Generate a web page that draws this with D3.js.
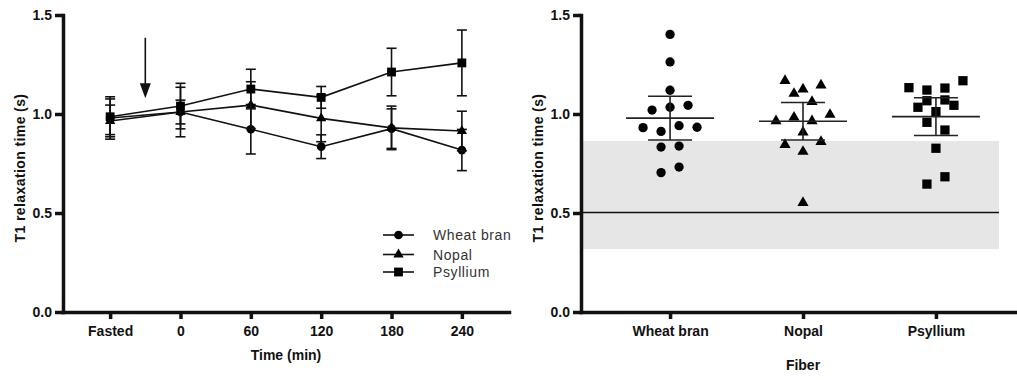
<!DOCTYPE html>
<html>
<head>
<meta charset="utf-8">
<script src="https://cdn.jsdelivr.net/npm/d3@7"></script>
<style>
  html, body { margin: 0; padding: 0; background: #fff; }
  text { font-family: "Liberation Sans", Arial, sans-serif; }
</style>
</head>
<body>
<div id="chart"></div>
<script>
// left panel: T1 over time, mean +/- error
var timeLabels = ['Fasted', '0', '60', '120', '180', '240'];
var seriesNames = ['Wheat bran', 'Nopal', 'Psyllium'];
var wheatMean = [0.980, 1.010, 0.923, 0.835, 0.926, 0.818];
var wheatErr  = [0.107, 0.125, 0.125, 0.060, 0.100, 0.104];
var nopalMean = [0.965, 1.010, 1.045, 0.978, 0.930, 0.914];
var nopalErr  = [0.080, 0.060, 0.118, 0.118, 0.110, 0.100];
var psylMean  = [0.986, 1.040, 1.126, 1.084, 1.212, 1.258];
var psylErr   = [0.090, 0.115, 0.100, 0.055, 0.120, 0.166];
var arrowFrom = 1.385, arrowTo = 1.08;   // intake arrow, between Fasted and 0

// right panel: individual values per fiber
var fiberLabels = ['Wheat bran', 'Nopal', 'Psyllium'];
var wheatVals = [1.402, 1.263, 1.120, 1.020, 1.034, 1.044, 0.931, 0.912, 0.941, 0.933, 0.833, 0.838, 0.704, 0.732];
var nopalVals = [1.168, 1.103, 1.125, 1.145, 1.062, 0.965, 0.983, 0.965, 0.997, 0.908, 0.845, 0.810, 0.860, 0.552];
var psylVals  = [1.133, 1.121, 1.131, 1.168, 1.034, 1.012, 1.044, 1.067, 1.071, 0.958, 0.919, 0.827, 0.646, 0.683];
var refLow = 0.318, refHigh = 0.864, refLine = 0.503;

var yTicks = [0, 0.5, 1.0, 1.5];
var tCrit = 2.160; // t(0.975, df=13), 95% CI for n=14

var W = 1017, H = 380;
var ink = '#111';

var svg = d3.select('#chart').append('svg')
  .attr('width', W)
  .attr('height', H);

var y = d3.scaleLinear().domain([0, 1.5]).range([312, 15]);

function styleAxis(g) {
  g.select('.domain').attr('stroke', ink).attr('stroke-width', 3.5).attr('stroke-linecap', 'square');
  g.selectAll('.tick line').attr('stroke', ink).attr('stroke-width', 3.5);
  g.selectAll('.tick text').attr('fill', '#111').attr('font-size', 14).attr('font-weight', 'bold');
}

function drawYAxis(x0) {
  var g = svg.append('g')
    .attr('transform', 'translate(' + x0 + ',0)')
    .call(d3.axisLeft(y).tickValues(yTicks).tickFormat(d3.format('.1f')).tickSize(8).tickSizeOuter(0).tickPadding(3));
  styleAxis(g);
  return g;
}

function drawXAxis(scale) {
  var g = svg.append('g')
    .attr('transform', 'translate(0,' + y(0) + ')')
    .call(d3.axisBottom(scale).tickSize(7).tickSizeOuter(0).tickPadding(7));
  styleAxis(g);
  return g;
}

function yTitle(x, cy) {
  svg.append('text')
    .attr('transform', 'translate(' + x + ',' + cy + ') rotate(-90)')
    .attr('text-anchor', 'middle')
    .attr('font-size', 14)
    .attr('font-weight', 'bold')
    .attr('letter-spacing', 0.4)
    .attr('fill', '#111')
    .text('T1 relaxation time (s)');
}

var symTypes = [d3.symbolCircle, d3.symbolTriangle, d3.symbolSquare];
var symSizes = [60, 46, 78];

// ---------- LEFT PANEL ----------
var xL = d3.scalePoint().domain(timeLabels).range([63, 509]).padding(0.67);

// band-free left panel: lines + error bars
var means = [wheatMean, nopalMean, psylMean];
var errs = [wheatErr, nopalErr, psylErr];

var line = d3.line()
  .x(function(d, i) { return xL(timeLabels[i]); })
  .y(function(d) { return y(d); });

means.forEach(function(m, s) {
  var g = svg.append('g');
  // error bars
  m.forEach(function(v, i) {
    var cx = xL(timeLabels[i]);
    var e = errs[s][i];
    g.append('line')
      .attr('x1', cx).attr('x2', cx)
      .attr('y1', y(v + e)).attr('y2', y(v - e))
      .attr('stroke', ink).attr('stroke-width', 1.6);
    [v + e, v - e].forEach(function(c) {
      g.append('line')
        .attr('x1', cx - 5).attr('x2', cx + 5)
        .attr('y1', y(c)).attr('y2', y(c))
        .attr('stroke', ink).attr('stroke-width', 1.6);
    });
  });
  g.append('path')
    .datum(m)
    .attr('d', line)
    .attr('fill', 'none')
    .attr('stroke', ink)
    .attr('stroke-width', 1.6);
  g.selectAll('path.pt')
    .data(m)
    .enter().append('path')
    .attr('class', 'pt')
    .attr('transform', function(d, i) { return 'translate(' + xL(timeLabels[i]) + ',' + y(d) + ')'; })
    .attr('d', d3.symbol().type(symTypes[s]).size(symSizes[s]))
    .attr('fill', '#000');
});

// arrow
var ax = (xL(timeLabels[0]) + xL(timeLabels[1])) / 2;
svg.append('line')
  .attr('x1', ax).attr('x2', ax)
  .attr('y1', y(arrowFrom)).attr('y2', y(arrowTo) - 12)
  .attr('stroke', ink).attr('stroke-width', 1.6);
svg.append('path')
  .attr('d', 'M' + (ax - 5.5) + ',' + (y(arrowTo) - 15) + 'L' + (ax + 5.5) + ',' + (y(arrowTo) - 15) + 'L' + ax + ',' + y(arrowTo) + 'Z')
  .attr('fill', ink);

drawXAxis(xL);
drawYAxis(63);
yTitle(25, 168);

svg.append('text')
  .attr('x', 286).attr('y', 360)
  .attr('text-anchor', 'middle')
  .attr('font-size', 14).attr('font-weight', 'bold').attr('fill', '#111')
  .text('Time (min)');

// legend
var legRows = [235, 254.5, 272];
seriesNames.forEach(function(name, s) {
  var ly = legRows[s];
  svg.append('line')
    .attr('x1', 383).attr('x2', 414)
    .attr('y1', ly).attr('y2', ly)
    .attr('stroke', ink).attr('stroke-width', 1.6);
  svg.append('path')
    .attr('transform', 'translate(398.5,' + ly + ')')
    .attr('d', d3.symbol().type(symTypes[s]).size(symSizes[s]))
    .attr('fill', '#000');
  svg.append('text')
    .attr('x', 433).attr('y', ly + 5)
    .attr('font-size', 14).attr('letter-spacing', 0.6).attr('fill', '#333')
    .text(name);
});

// ---------- RIGHT PANEL ----------
var xR = d3.scalePoint().domain(fiberLabels).range([581, 1025]).padding(0.67);
var bandRight = 999;

svg.append('rect')
  .attr('x', 581).attr('y', y(refHigh))
  .attr('width', bandRight - 581).attr('height', y(refLow) - y(refHigh))
  .attr('fill', '#e6e6e6');
svg.append('line')
  .attr('x1', 581).attr('x2', bandRight)
  .attr('y1', y(refLine)).attr('y2', y(refLine))
  .attr('stroke', ink).attr('stroke-width', 1.5);

// spread points of similar value side by side, centred on the column
function spread(vals) {
  var order = d3.range(vals.length).sort(function(a, b) { return vals[a] - vals[b]; });
  var offs = new Array(vals.length);
  var groups = [], cur = null;
  order.forEach(function(i) {
    if (cur && vals[i] - vals[cur[0]] < 0.05) cur.push(i);
    else { cur = [i]; groups.push(cur); }
  });
  groups.forEach(function(g) {
    g.sort(function(a, b) { return a - b; });
    g.forEach(function(i, k) { offs[i] = (k - (g.length - 1) / 2) * 18; });
  });
  return offs;
}

[wheatVals, nopalVals, psylVals].forEach(function(vals, s) {
  var cx = xR(fiberLabels[s]);
  var offs = spread(vals);
  svg.append('g').selectAll('path')
    .data(vals)
    .enter().append('path')
    .attr('transform', function(d, i) { return 'translate(' + (cx + offs[i]) + ',' + y(d) + ')'; })
    .attr('d', d3.symbol().type(symTypes[s]).size(symSizes[s] + 8))
    .attr('fill', '#000');

  var m = d3.mean(vals);
  var ci = tCrit * d3.deviation(vals) / Math.sqrt(vals.length);
  var g = svg.append('g').attr('stroke', '#222').attr('stroke-width', 1.6);
  g.append('line').attr('x1', cx - 44).attr('x2', cx + 44).attr('y1', y(m)).attr('y2', y(m));
  g.append('line').attr('x1', cx).attr('x2', cx).attr('y1', y(m + ci)).attr('y2', y(m - ci));
  [m + ci, m - ci].forEach(function(c) {
    g.append('line').attr('x1', cx - 22).attr('x2', cx + 22).attr('y1', y(c)).attr('y2', y(c));
  });
});

drawXAxis(xR);
drawYAxis(581);
yTitle(543, 168);

svg.append('text')
  .attr('x', xR('Nopal')).attr('y', 370)
  .attr('text-anchor', 'middle')
  .attr('font-size', 14).attr('font-weight', 'bold').attr('fill', '#111')
  .text('Fiber');
</script>
</body>
</html>
